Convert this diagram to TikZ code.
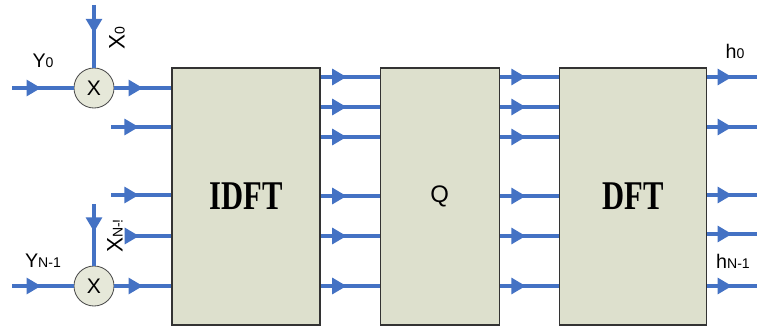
\documentclass[tikz,border=0pt]{standalone}
\usepackage{fontspec}
\setmainfont{Liberation Sans}
\newfontfamily\blockfont{Liberation Serif}
\usepackage{xcolor}
\usetikzlibrary{arrows.meta, positioning, decorations.markings}
\definecolor{sigblue}{RGB}{68,114,196}
\definecolor{boxfill}{RGB}{221,224,205}
\newcommand{\lblidx}[1]{{\fontsize{10}{10}\selectfont #1}}
\newcommand{\blocktitle}[1]{\scalebox{0.75}[1]{\blockfont\bfseries\fontsize{29}{29}\selectfont #1}}

\begin{document}
\begin{tikzpicture}[
        x=0.025cm, y=-0.025cm,
        block/.style={rectangle, draw=black!80, line width=0.8pt, fill=boxfill, minimum height=6.425cm, inner sep=0pt},
        mult/.style={circle, draw=black!70, line width=0.6pt, fill=boxfill!75, minimum size=1cm, inner sep=0pt, font=\fontsize{15}{15}\selectfont},
        lbl/.style={font=\fontsize{14}{14}\selectfont, inner sep=1pt},
        sig/.style={line width=2.2pt, draw=sigblue, postaction={decorate}, decoration={markings, mark=at position #1 with {\arrow[sigblue]{Triangle[length=0.36cm, width=0.4cm]}}}},
        sig/.default=0.5
    ]
    \useasboundingbox (0,0) rectangle (757,328);

    % Nodes
    \node (idft) [block, minimum width=3.7cm] at (246,196.5) {\blocktitle{IDFT}};
    \node (q) [block, minimum width=2.975cm, right=1.475cm of idft] {\fontsize{17}{17}\selectfont Q};
    \node (dft) [block, minimum width=3.675cm, right=1.475cm of q] {\blocktitle{DFT}};
    \node (mul0) [mult] at (94,88) {X};
    \node (mulN) [mult] at (94,286) {X};

    % free ends
    \coordinate (y0in) at (12,88);
    \coordinate (x0in) at (94,5);
    \coordinate (yNin) at (12,286);
    \coordinate (xNin) at (94,204);
    \coordinate (in1) at (111,127);
    \coordinate (in2) at (111,195);
    \coordinate (in3) at (131,236);

    % Labels
    \node (y0lbl) [lbl] at (43,61) {Y\lblidx{0}};
    \node (yNlbl) [lbl] at (43,261) {Y\lblidx{N-1}};
    \node (x0lbl) [lbl, rotate=90, font=\fontsize{16}{16}\selectfont] at (117,38) {X\lblidx{0}};
    \node (xNlbl) [lbl, rotate=90, font=\fontsize{16}{16}\selectfont] at (115,236) {X\lblidx{N-!}};
    \node (h0lbl) [lbl] at (735,51) {h\lblidx{0}};
    \node (hNlbl) [lbl] at (733,261) {h\lblidx{N-1}};

    % Arrows
    \draw [sig=0.47] (y0in) -- (mul0);
    \draw [sig=0.45] (x0in) -- (mul0);
    \draw [sig=0.47] (yNin) -- (mulN);
    \draw [sig=0.45] (xNin) -- (mulN);
    \draw [sig=0.5] (mul0) -- (idft.west |- mul0);
    \draw [sig=0.5] (mulN) -- (idft.west |- mulN);
    \draw [sig=0.46] (in1) -- (idft.west |- in1);
    \draw [sig=0.46] (in2) -- (idft.west |- in2);
    \draw [sig=0.2] (in3) -- (idft.west |- in3);
    \foreach \r in {77,107,137,196,236,286} {
        \draw [sig=0.44] (idft.east |- 0,\r) -- (q.west |- 0,\r);
        \draw [sig=0.44] (q.east |- 0,\r) -- (dft.west |- 0,\r);
    }
    \foreach \r in {77,127,195,234,286} {
        \coordinate (out\r) at (757,\r);
        \draw [sig=0.5] (dft.east |- out\r) -- (out\r);
    }

\end{tikzpicture}
\end{document}
